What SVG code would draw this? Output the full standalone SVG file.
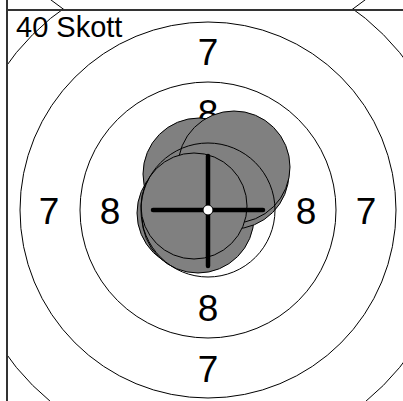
<svg xmlns="http://www.w3.org/2000/svg" width="403" height="401" viewBox="0 0 403 401">
<style>
.ring{fill:none;stroke:#000;stroke-width:1}
.num{font-family:"Liberation Sans",Arial,sans-serif;font-size:37px;fill:#000;text-anchor:middle}
.shot{fill:#808080;stroke:#000;stroke-width:1}
.frame{stroke:#333;stroke-width:2;fill:none}
.cross{stroke:#000;stroke-width:4.5;stroke-linecap:round}
</style>
<defs>
<clipPath id="panel"><rect x="7" y="10" width="396" height="391"/></clipPath>
<clipPath id="upper"><rect x="7" y="0" width="396" height="10"/></clipPath>
</defs>
<rect width="403" height="401" fill="#fff"/>
<g id="upper-target" clip-path="url(#upper)">
<circle class="ring" cx="208" cy="-192" r="248"/>
</g>
<g id="target" clip-path="url(#panel)">
<g id="rings">
<circle class="ring" cx="208" cy="210" r="248"/>
<circle class="ring" cx="208" cy="210" r="188"/>
<circle class="ring" cx="208" cy="210" r="128"/>
</g>
<g id="labels">
<text class="num" x="208" y="65">7</text>
<text class="num" x="208" y="382">7</text>
<text class="num" x="49" y="223.5">7</text>
<text class="num" x="366" y="223.5">7</text>
<text class="num" x="208" y="125.5">8</text>
<text class="num" x="208" y="320.5">8</text>
<text class="num" x="110" y="223.5">8</text>
<text class="num" x="306" y="223.5">8</text>
</g>
<g id="shots">
<circle class="shot" cx="199" cy="174" r="56"/>
<circle class="shot" cx="193" cy="213" r="56"/>
<circle class="shot" cx="198" cy="217" r="56"/>
<circle class="shot" cx="233" cy="173" r="56"/>
<circle class="shot" cx="234" cy="167" r="56"/>
<circle class="shot" cx="194" cy="206" r="53"/>
</g>
<g id="ring9">
<circle class="ring" cx="208" cy="210" r="67"/>
</g>
<g id="center-mark">
<line class="cross" x1="153" y1="210" x2="263" y2="210"/>
<line class="cross" x1="208" y1="156" x2="208" y2="266"/>
<circle cx="208" cy="210" r="5" fill="#fff" stroke="#000" stroke-width="1"/>
</g>
</g>
<g id="frame">
<line class="frame" x1="7" y1="0" x2="7" y2="401"/>
<line class="frame" x1="6" y1="10" x2="403" y2="10"/>
</g>
<text id="title" x="16" y="37" font-family="Liberation Sans, Arial, sans-serif" font-size="29" fill="#000">40 Skott</text>
</svg>
